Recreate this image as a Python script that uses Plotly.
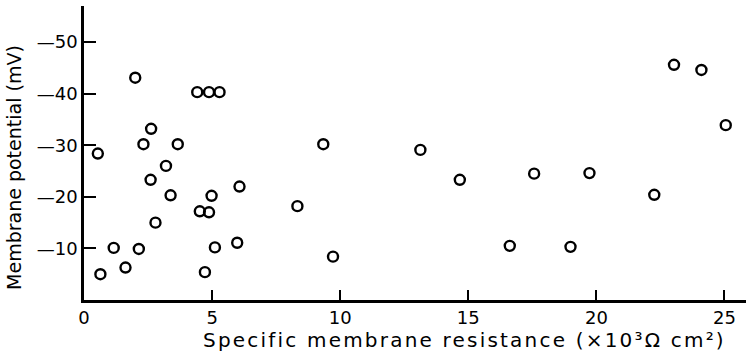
import plotly.graph_objects as go

resistance = [0.54, 0.64, 1.16, 1.62, 2.0, 2.14, 2.32, 2.62, 2.6, 2.79, 3.2, 3.38, 3.66,
              4.42, 4.52, 4.72, 4.88, 4.88, 4.98, 5.11, 5.29, 5.98, 6.07, 8.33, 9.34,
              9.72, 13.13, 14.67, 16.62, 17.57, 18.99, 19.73, 22.26, 23.03, 24.1, 25.05]
potential = [-28.4, -5.0, -10.1, -6.3, -43.1, -9.9, -30.2, -33.2, -23.3, -15.0, -26.0, -20.3, -30.2,
             -40.3, -17.2, -5.4, -17.0, -40.3, -20.2, -10.2, -40.3, -11.1, -22.0, -18.2, -30.2,
             -8.4, -29.1, -23.3, -10.5, -24.5, -10.3, -24.6, -20.4, -45.6, -44.6, -33.9]

x_ticks = [0, 5, 10, 15, 20, 25]
x_ticktext = ["0", "5", "10", "15", "20", "25"]
y_ticks = [-10, -20, -30, -40, -50]
y_ticktext = ["—10", "—20", "—30", "—40", "—50"]

x_title = "Specific membrane resistance (×10³Ω cm²)"
y_title = "Membrane potential (mV)"

FONT = "DejaVu Sans"

fig = go.Figure()
fig.add_trace(go.Scatter(
    x=resistance, y=potential, mode="markers",
    marker=dict(symbol="circle-open", size=10, color="black", line=dict(width=2.4, color="black")),
    showlegend=False, hoverinfo="skip",
))

fig.update_layout(
    width=746, height=354,
    margin=dict(l=84, r=0, t=6, b=54),
    paper_bgcolor="white", plot_bgcolor="white",
    font=dict(family=FONT, color="black"),
    xaxis=dict(
        range=[0, 25.84], tickmode="array", tickvals=x_ticks, ticktext=x_ticktext,
        ticks="inside", ticklen=10, tickwidth=2, tickcolor="black",
        showline=True, linecolor="black", linewidth=2.5,
        showgrid=False, zeroline=False,
        tickfont=dict(family=FONT, size=18, color="black"),
    ),
    yaxis=dict(
        range=[0, -57], tickmode="array", tickvals=y_ticks, ticktext=y_ticktext,
        ticks="inside", ticklen=12, tickwidth=2, tickcolor="black",
        showline=True, linecolor="black", linewidth=2.5,
        showgrid=False, zeroline=False,
        tickfont=dict(family=FONT, size=18, color="black"),
    ),
    annotations=[
        dict(text='<span style="letter-spacing:2.2px">' + x_title + '</span>',
             xref="paper", yref="paper", x=0.575, y=-0.136,
             xanchor="center", yanchor="middle", showarrow=False,
             font=dict(family=FONT, size=20, color="black")),
        dict(text=y_title, xref="paper", yref="paper", x=-0.106, y=0.452,
             xanchor="center", yanchor="middle", showarrow=False, textangle=-90,
             font=dict(family=FONT, size=19, color="black")),
    ],
)

fig.write_html("out.html")
